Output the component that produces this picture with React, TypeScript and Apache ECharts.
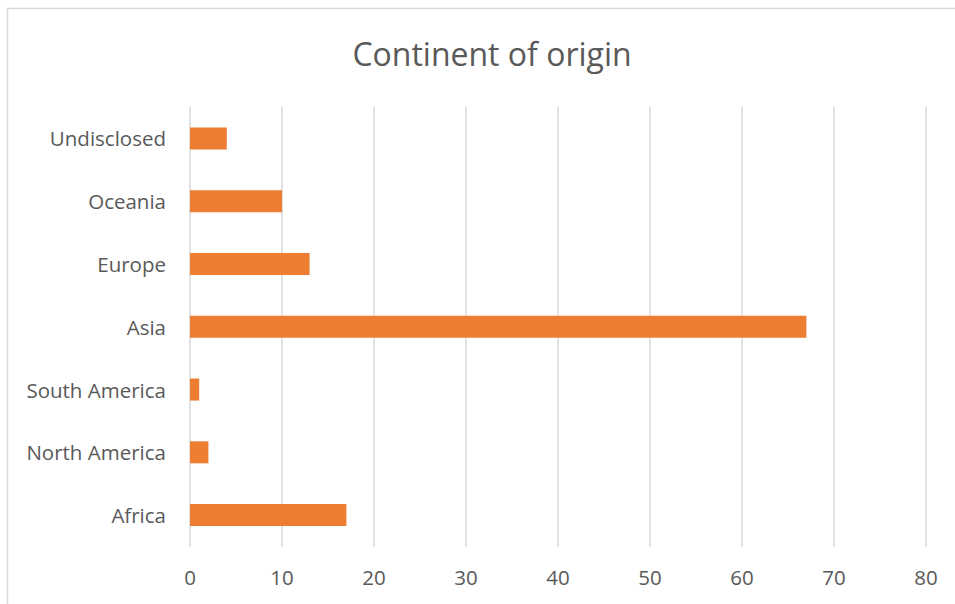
import React, { useEffect, useRef } from "react";
import * as echarts from "echarts";

const categories = ["Africa", "North America", "South America", "Asia", "Europe", "Oceania", "Undisclosed"];
const counts = [17, 2, 1, 67, 13, 10, 4];
const xTicks = { min: 0, max: 80, interval: 10 };
const titleText = "Continent of origin";

export default function App() {
  const ref = useRef<HTMLDivElement>(null);
  useEffect(() => {
    if (!ref.current) return;
    const chart = echarts.init(ref.current, null, { renderer: "svg" });
    const font = "'Open Sans', 'Noto Sans', sans-serif";
    chart.setOption({
      animation: false,
      backgroundColor: "#ffffff",
      title: {
        text: titleText,
        left: 487,
        top: 32,
        textAlign: "center",
        textStyle: { fontFamily: font, fontSize: 32, fontWeight: "normal", color: "#595959" },
      },
      graphic: [
        {
          type: "rect",
          shape: { x: 7.5, y: 8.5, width: 1100, height: 800 },
          style: { fill: "none", stroke: "#D9D9D9", lineWidth: 1.5 },
          silent: true,
        },
      ],
      grid: { left: 190, right: 29, top: 107, bottom: 57.5 },
      xAxis: {
        type: "value",
        min: xTicks.min,
        max: xTicks.max,
        interval: xTicks.interval,
        axisLine: { show: false },
        axisTick: { show: false },
        splitLine: { show: true, lineStyle: { color: "#D9D9D9", width: 1.5 } },
        axisLabel: { fontFamily: font, fontSize: 20.5, color: "#595959", margin: 20 },
      },
      yAxis: {
        type: "category",
        data: categories,
        axisLine: { show: false },
        axisTick: { show: false },
        axisLabel: { fontFamily: font, fontSize: 20.5, color: "#595959", margin: 24 },
      },
      series: [
        {
          type: "bar",
          data: counts,
          barWidth: 22,
          itemStyle: { color: "#ED7D31" },
        },
      ],
    });
    return () => chart.dispose();
  }, []);
  return (
    <div
      ref={ref}
      style={{ position: "fixed", left: 0, top: 0, width: 955, height: 604 }}
    />
  );
}
